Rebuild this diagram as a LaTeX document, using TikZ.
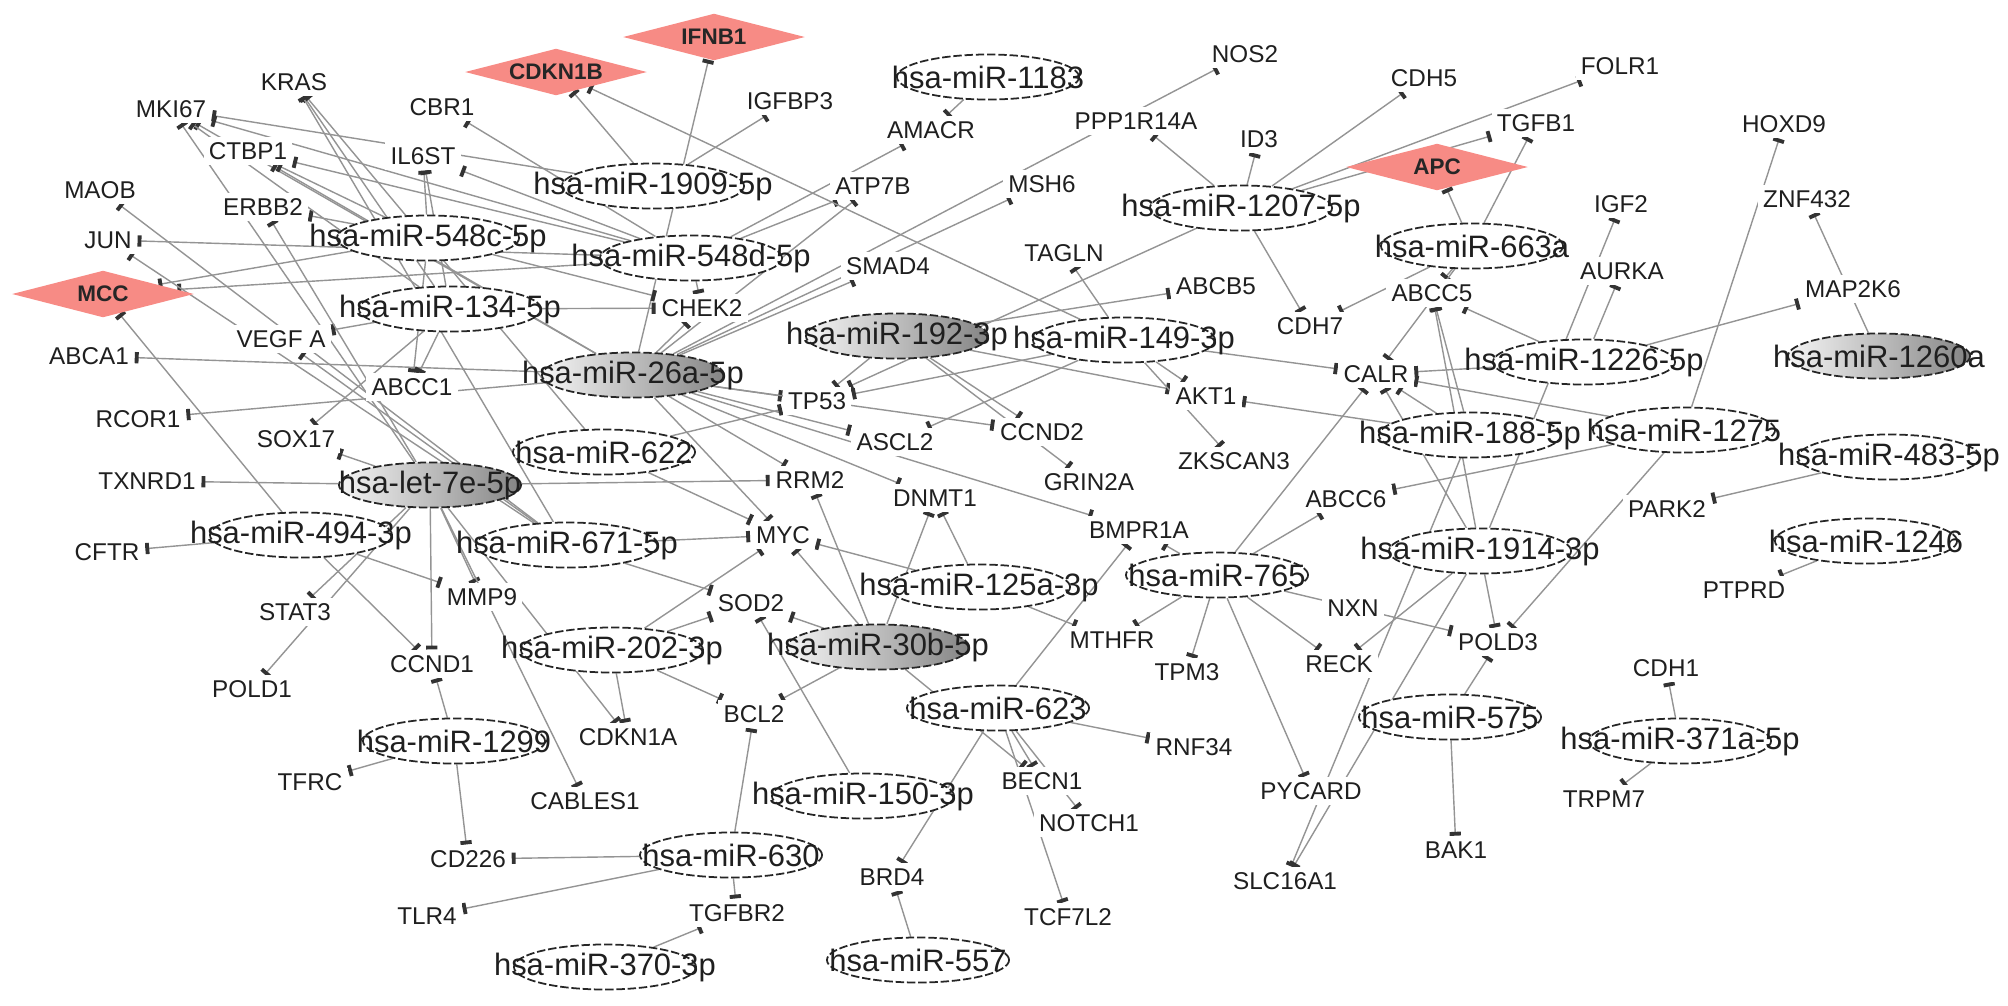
\documentclass[tikz,border=0pt]{standalone}
\usepackage{fontspec}
\setmainfont{Liberation Sans}
\usetikzlibrary{shapes.geometric,arrows.meta}
\pgfdeclarelayer{bg}
\pgfsetlayers{bg,main}
\definecolor{salmonpink}{RGB}{247,139,133}
\tikzset{
 mirbase/.style={ellipse, draw=black!85, dash pattern=on 2.4pt off 0.8pt, line width=0.5pt, minimum width=1.82cm, minimum height=0.45cm, inner sep=0pt},
 mir/.style={mirbase, fill=white},
 mirsh/.style={mirbase, left color=black!4, right color=black!48},
 mirlab/.style={font=\fontsize{8.8}{9}\selectfont, inner sep=0pt, text=black!88},
 gene/.style={font=\fontsize{6.9}{7}\selectfont, fill=white, inner sep=1.5pt, text=black!88},
 dis/.style={diamond, fill=salmonpink, minimum width=1.82cm, minimum height=0.47cm, inner sep=0pt},
 dislab/.style={font=\bfseries\fontsize{6.4}{7}\selectfont, inner sep=0pt, text=black!85},
 edge/.style={draw=black!42, line width=0.4pt, -{Bar[width=3.2pt,line width=1.1pt,color=black!80]}},
}
\newcommand{\MiRNode}[4]{\node[#1] (#2) at (#3) {}; \node[mirlab] at (#2.center) {#4};}
\newcommand{\DisNode}[3]{\node[dis] (#1) at (#2) {}; \node[dislab] at (#1.center) {#3};}
\begin{document}
\begin{tikzpicture}[x=0.01cm,y=-0.01cm]
\useasboundingbox (0,0) rectangle (2008,1005);
% genes
\node[gene] (KRAS) at (294,82) {KRAS};
\node[gene] (MKI67) at (171,109) {MKI67};
\node[gene] (CBR1) at (442,107) {CBR1};
\node[gene] (CTBP1) at (248,151) {CTBP1};
\node[gene] (IL6ST) at (423,156) {IL6ST};
\node[gene] (MAOB) at (100,190) {MAOB};
\node[gene] (ERBB2) at (263,207) {ERBB2};
\node[gene] (JUN) at (108,240) {JUN};
\node[gene] (VEGFA) at (281,339) {VEGF A};
\node[gene] (ABCA1) at (89,356) {ABCA1};
\node[gene] (ABCC1) at (412,387) {ABCC1};
\node[gene] (RCOR1) at (138,419) {RCOR1};
\node[gene] (SOX17) at (296,439) {SOX17};
\node[gene] (TXNRD1) at (147,481) {TXNRD1};
\node[gene] (CFTR) at (107,552) {CFTR};
\node[gene] (STAT3) at (295,612) {STAT3};
\node[gene] (MMP9) at (482,597) {MMP9};
\node[gene] (CCND1) at (432,664) {CCND1};
\node[gene] (POLD1) at (252,689) {POLD1};
\node[gene] (TFRC) at (310,782) {TFRC};
\node[gene] (CD226) at (468,859) {CD226};
\node[gene] (TLR4) at (427,916) {TLR4};
\node[gene] (CDKN1A) at (628,737) {CDKN1A};
\node[gene] (BCL2) at (754,714) {BCL2};
\node[gene] (CABLES1) at (585,801) {CABLES1};
\node[gene] (TGFBR2) at (737,913) {TGFBR2};
\node[gene] (BRD4) at (892,877) {BRD4};
\node[gene] (SOD2) at (751,603) {SOD2};
\node[gene] (MYC) at (783,535) {MYC};
\node[gene] (RRM2) at (810,480) {RRM2};
\node[gene] (DNMT1) at (935,498) {DNMT1};
\node[gene] (ASCL2) at (895,442) {ASCL2};
\node[gene] (TP53) at (817,401) {TP53};
\node[gene] (CHEK2) at (702,308) {CHEK2};
\node[gene] (SMAD4) at (888,266) {SMAD4};
\node[gene] (ATP7B) at (873,186) {ATP7B};
\node[gene] (IGFBP3) at (790,101) {IGFBP3};
\node[gene] (AMACR) at (931,130) {AMACR};
\node[gene] (MSH6) at (1042,184) {MSH6};
\node[gene] (NOS2) at (1245,54) {NOS2};
\node[gene] (PPP1R14A) at (1136,121) {PPP1R14A};
\node[gene] (ID3) at (1259,139) {ID3};
\node[gene] (CDH5) at (1424,78) {CDH5};
\node[gene] (TGFB1) at (1536,123) {TGFB1};
\node[gene] (FOLR1) at (1620,66) {FOLR1};
\node[gene] (HOXD9) at (1784,124) {HOXD9};
\node[gene] (IGF2) at (1621,204) {IGF2};
\node[gene] (ZNF432) at (1807,199) {ZNF432};
\node[gene] (AURKA) at (1622,271) {AURKA};
\node[gene] (MAP2K6) at (1853,289) {MAP2K6};
\node[gene] (TAGLN) at (1064,253) {TAGLN};
\node[gene] (ABCB5) at (1216,286) {ABCB5};
\node[gene] (CDH7) at (1310,326) {CDH7};
\node[gene] (ABCC5) at (1432,293) {ABCC5};
\node[gene] (CCND2) at (1042,432) {CCND2};
\node[gene] (GRIN2A) at (1089,482) {GRIN2A};
\node[gene] (AKT1) at (1206,396) {AKT1};
\node[gene] (ZKSCAN3) at (1234,461) {ZKSCAN3};
\node[gene] (CALR) at (1376,374) {CALR};
\node[gene] (ABCC6) at (1346,499) {ABCC6};
\node[gene] (BMPR1A) at (1139,530) {BMPR1A};
\node[gene] (MTHFR) at (1112,640) {MTHFR};
\node[gene] (TPM3) at (1187,672) {TPM3};
\node[gene] (NXN) at (1353,608) {NXN};
\node[gene] (RECK) at (1339,664) {RECK};
\node[gene] (POLD3) at (1498,642) {POLD3};
\node[gene] (PARK2) at (1667,509) {PARK2};
\node[gene] (PTPRD) at (1744,590) {PTPRD};
\node[gene] (CDH1) at (1666,668) {CDH1};
\node[gene] (TRPM7) at (1604,799) {TRPM7};
\node[gene] (PYCARD) at (1311,791) {PYCARD};
\node[gene] (SLC16A1) at (1285,881) {SLC16A1};
\node[gene] (BAK1) at (1456,850) {BAK1};
\node[gene] (RNF34) at (1194,747) {RNF34};
\node[gene] (BECN1) at (1042,781) {BECN1};
\node[gene] (NOTCH1) at (1089,823) {NOTCH1};
\node[gene] (TCF7L2) at (1068,917) {TCF7L2};
% disease genes
\DisNode{IFNB1}{714,37}{IFNB1}
\DisNode{CDKN1B}{556,72}{CDKN1B}
\DisNode{MCC}{103,294}{MCC}
\DisNode{APC}{1437,167}{APC}
% miRNAs
\MiRNode{mir}{m548c}{428,238}{hsa-miR-548c-5p}
\MiRNode{mir}{m134}{450,309}{hsa-miR-134-5p}
\MiRNode{mir}{m1909}{653,186}{hsa-miR-1909-5p}
\MiRNode{mir}{m548d}{691,258}{hsa-miR-548d-5p}
\MiRNode{mirsh}{m26a}{633,375}{hsa-miR-26a-5p}
\MiRNode{mir}{m622}{604,452}{hsa-miR-622}
\MiRNode{mirsh}{let7e}{430,485}{hsa-let-7e-5p}
\MiRNode{mir}{m494}{301,535}{hsa-miR-494-3p}
\MiRNode{mir}{m671}{567,545}{hsa-miR-671-5p}
\MiRNode{mir}{m202}{612,650}{hsa-miR-202-3p}
\MiRNode{mir}{m1299}{454,741}{hsa-miR-1299}
\MiRNode{mir}{m630}{731,855}{hsa-miR-630}
\MiRNode{mir}{m370}{605,967}{hsa-miR-370-3p}
\MiRNode{mir}{m150}{863,796}{hsa-miR-150-3p}
\MiRNode{mir}{m557}{918,960}{hsa-miR-557}
\MiRNode{mirsh}{m30b}{878,647}{hsa-miR-30b-5p}
\MiRNode{mir}{m623}{998,708}{hsa-miR-623}
\MiRNode{mir}{m125a}{979,587}{hsa-miR-125a-3p}
\MiRNode{mirsh}{m192}{897,336}{hsa-miR-192-3p}
\MiRNode{mir}{m149}{1124,340}{hsa-miR-149-3p}
\MiRNode{mir}{m1183}{988,77}{hsa-miR-1183}
\MiRNode{mir}{m1207}{1241,208}{hsa-miR-1207-5p}
\MiRNode{mir}{m663a}{1472,246}{hsa-miR-663a}
\MiRNode{mir}{m765}{1217,575}{hsa-miR-765}
\MiRNode{mir}{m188}{1470,435}{hsa-miR-188-5p}
\MiRNode{mir}{m1914}{1480,551}{hsa-miR-1914-3p}
\MiRNode{mir}{m1226}{1584,362}{hsa-miR-1226-5p}
\MiRNode{mir}{m1275}{1684,430}{hsa-miR-1275}
\MiRNode{mirsh}{m1260a}{1879,356}{hsa-miR-1260a}
\MiRNode{mir}{m483}{1889,457}{hsa-miR-483-5p}
\MiRNode{mir}{m1246}{1866,541}{hsa-miR-1246}
\MiRNode{mir}{m575}{1450,717}{hsa-miR-575}
\MiRNode{mir}{m371a}{1680,741}{hsa-miR-371a-5p}
% edges
\begin{pgfonlayer}{bg}
\foreach \a/\b in {m26a/IFNB1, m26a/NOS2, m26a/MSH6, m26a/ATP7B, m26a/SMAD4, m26a/CHEK2, m26a/TP53, m26a/RRM2, m26a/MYC, m26a/ASCL2, m26a/DNMT1, m26a/CCND2, m26a/BMPR1A, m26a/ABCA1, m26a/RCOR1, m26a/MKI67, m26a/CTBP1,
m548c/MCC, m548c/ERBB2, m548c/IL6ST, m548c/ABCC1, m548c/CHEK2, m548c/CTBP1,
m134/IL6ST, m134/KRAS, m134/VEGFA, m134/SOX17, m134/ABCC1, m134/CHEK2, m134/MKI67,
m1909/CDKN1B, m1909/IGFBP3, m1909/MKI67,
m548d/MCC, m548d/CBR1, m548d/IL6ST, m548d/CHEK2, m548d/ATP7B, m548d/AMACR, m548d/CTBP1, m548d/MKI67, m548d/JUN,
m622/KRAS, m622/MYC, m622/TP53,
let7e/TXNRD1, let7e/SOX17, let7e/STAT3, let7e/POLD1, let7e/MMP9, let7e/CCND1, let7e/RRM2, let7e/CDKN1A, let7e/CABLES1, let7e/ERBB2, let7e/MKI67,
m494/MCC, m494/CFTR, m494/MMP9, m494/CCND1,
m671/KRAS, m671/MAOB, m671/JUN, m671/VEGFA, m671/SOD2, m671/MYC,
m202/CDKN1A, m202/BCL2, m202/SOD2, m202/MYC,
m1299/CCND1, m1299/TFRC, m1299/CD226,
m630/TLR4, m630/CD226, m630/TGFBR2, m630/BCL2,
m370/TGFBR2, m557/BRD4, m150/SOD2,
m30b/BCL2, m30b/SOD2, m30b/MYC, m30b/RRM2, m30b/BECN1, m30b/DNMT1,
m623/BRD4, m623/BECN1, m623/NOTCH1, m623/RNF34, m623/TCF7L2, m623/BMPR1A,
m125a/DNMT1, m125a/MTHFR, m125a/MYC,
m192/TP53, m192/CCND2, m192/GRIN2A, m192/AKT1, m192/ABCB5,
m149/CDKN1B, m149/TAGLN, m149/AKT1, m149/ZKSCAN3, m149/CALR, m149/TP53, m149/ASCL2,
m1183/AMACR,
m1207/PPP1R14A, m1207/ID3, m1207/CDH5, m1207/FOLR1, m1207/TGFB1, m1207/CDH7, m1207/TP53,
m663a/APC, m663a/TGFB1, m663a/CDH7, m663a/ABCC5, m663a/CALR,
m765/ABCC6, m765/CALR, m765/BMPR1A, m765/MTHFR, m765/TPM3, m765/RECK, m765/PYCARD, m765/POLD3,
m188/CALR, m188/ABCC5, m188/AKT1, m188/SLC16A1,
m1914/CALR, m1914/ABCC5, m1914/IGF2, m1914/POLD3, m1914/SLC16A1, m1914/RECK,
m1226/MAP2K6, m1226/AURKA, m1226/ABCC5, m1226/CALR,
m1275/HOXD9, m1275/POLD3, m1275/ABCC6, m1275/CALR,
m1260a/ZNF432, m483/PARK2, m1246/PTPRD, m575/POLD3, m575/BAK1, m371a/CDH1, m371a/TRPM7}
  \draw[edge] (\a) -- (\b);
\end{pgfonlayer}
\end{tikzpicture}
\end{document}
